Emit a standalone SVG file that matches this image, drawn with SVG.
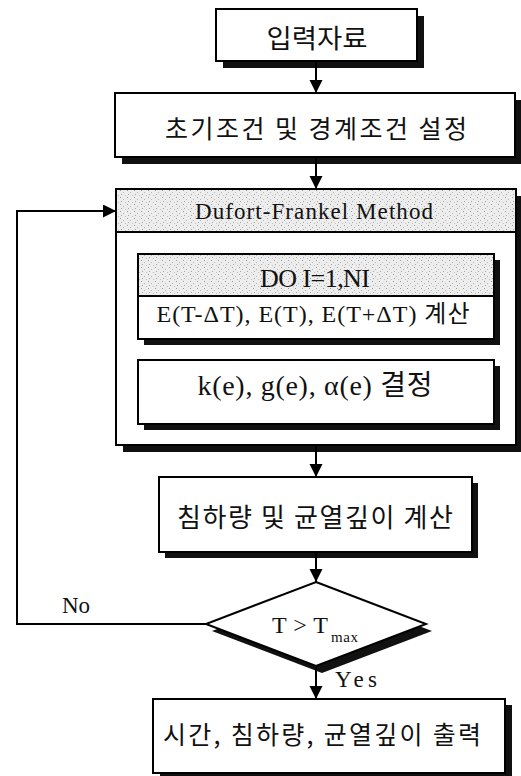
<svg xmlns="http://www.w3.org/2000/svg" width="521" height="776" viewBox="0 0 521 776">
<style>
.box{fill:#fff;stroke:#000;stroke-width:2}
.hdr{fill:url(#stip);stroke:#000;stroke-width:2}
.sh{fill:#111}
.con{fill:none;stroke:#000;stroke-width:2}
.kr{font-family:"Noto Sans CJK KR","Noto Sans",sans-serif;fill:#111}
.rm{font-family:"Liberation Serif","Noto Sans CJK KR",serif;fill:#111}
</style>
<defs>
<pattern id="stip" width="7" height="7" patternUnits="userSpaceOnUse">
<rect width="7" height="7" fill="#ededed"/>
<rect x="1" y="1" width="1" height="1" fill="#9a9a9a"/>
<rect x="4" y="3" width="1" height="1" fill="#b5b5b5"/>
<rect x="2" y="5" width="1" height="1" fill="#a5a5a5"/>
<rect x="6" y="6" width="1" height="1" fill="#c0c0c0"/>
</pattern>
<marker id="ah" markerUnits="userSpaceOnUse" markerWidth="14" markerHeight="14" refX="13" refY="6.5" orient="auto">
<path d="M0,0 L13,6.5 L0,13 z" fill="#000"/>
</marker>
</defs>

<g id="n-input">
<rect class="sh" x="223" y="16" width="201" height="52"/>
<rect class="box" x="216" y="9" width="201" height="52"/>
<text class="kr" x="317" y="36" font-size="26" text-anchor="middle" dominant-baseline="central" textLength="101" lengthAdjust="spacingAndGlyphs">입력자료</text>
</g>

<g id="n-init">
<rect class="sh" x="122" y="100" width="400" height="64"/>
<rect class="box" x="115" y="93" width="400" height="64"/>
<text class="kr" x="316" y="127" font-size="25" text-anchor="middle" dominant-baseline="central" textLength="302" lengthAdjust="spacing">초기조건 및 경계조건 설정</text>
</g>

<g id="n-dufort">
<rect class="sh" x="123" y="196" width="400" height="256"/>
<rect class="box" x="116" y="189" width="400" height="256"/>
<rect class="hdr" x="116" y="189" width="400" height="43"/>
<text class="rm" x="314" y="219" font-size="23" text-anchor="middle" textLength="238" lengthAdjust="spacing">Dufort-Frankel Method</text>
</g>

<g id="n-loop">
<rect class="sh" x="144" y="260" width="356" height="85"/>
<rect class="box" x="138" y="254" width="356" height="85"/>
<rect class="hdr" x="138" y="254" width="356" height="42"/>
<text class="rm" x="315" y="287" font-size="26" text-anchor="middle" textLength="110" lengthAdjust="spacing">DO I=1,NI</text>
<text class="rm" x="313" y="322" font-size="24" text-anchor="middle" textLength="313" lengthAdjust="spacing">E(T-ΔT), E(T), E(T+ΔT) 계산</text>
</g>

<g id="n-coef">
<rect class="sh" x="144" y="366" width="356" height="64"/>
<rect class="box" x="138" y="360" width="356" height="64"/>
<text class="rm" x="315" y="395" font-size="28" text-anchor="middle" textLength="235" lengthAdjust="spacing">k(e), g(e), α(e) 결정</text>
</g>

<g id="n-settle">
<rect class="sh" x="165" y="483" width="313" height="75"/>
<rect class="box" x="159" y="477" width="313" height="75"/>
<text class="kr" x="315" y="515" font-size="26" text-anchor="middle" dominant-baseline="central" textLength="276" lengthAdjust="spacing">침하량 및 균열깊이 계산</text>
</g>

<g id="n-check">
<polygon class="sh" points="322,589 432,631 322,673 212,631"/>
<polygon class="box" points="316,582 426,624 316,666 206,624"/>
<text class="rm" x="272" y="633" font-size="24" textLength="56" lengthAdjust="spacing">T &gt; T</text>
<text class="rm" x="331" y="642" font-size="15" textLength="27" lengthAdjust="spacing">max</text>
</g>

<g id="n-output">
<rect class="sh" x="160" y="705" width="352" height="75"/>
<rect class="box" x="153" y="699" width="352" height="74"/>
<text class="kr" x="322" y="733" font-size="25" text-anchor="middle" dominant-baseline="central" textLength="318" lengthAdjust="spacing">시간, 침하량, 균열깊이 출력</text>
</g>

<g id="connectors">
<path class="con" d="M316,61 V93" marker-end="url(#ah)"/>
<path class="con" d="M316,157 V189" marker-end="url(#ah)"/>
<path class="con" d="M316,445 V477" marker-end="url(#ah)"/>
<path class="con" d="M316,552 V582" marker-end="url(#ah)"/>
<path class="con" d="M316,666 V699" marker-end="url(#ah)"/>
<path class="con" d="M206,624 H17 V211 H116" marker-end="url(#ah)"/>
<text class="rm" x="62" y="613" font-size="23">No</text>
<text class="rm" x="335" y="687" font-size="23" textLength="42" lengthAdjust="spacing">Yes</text>
</g>
</svg>
